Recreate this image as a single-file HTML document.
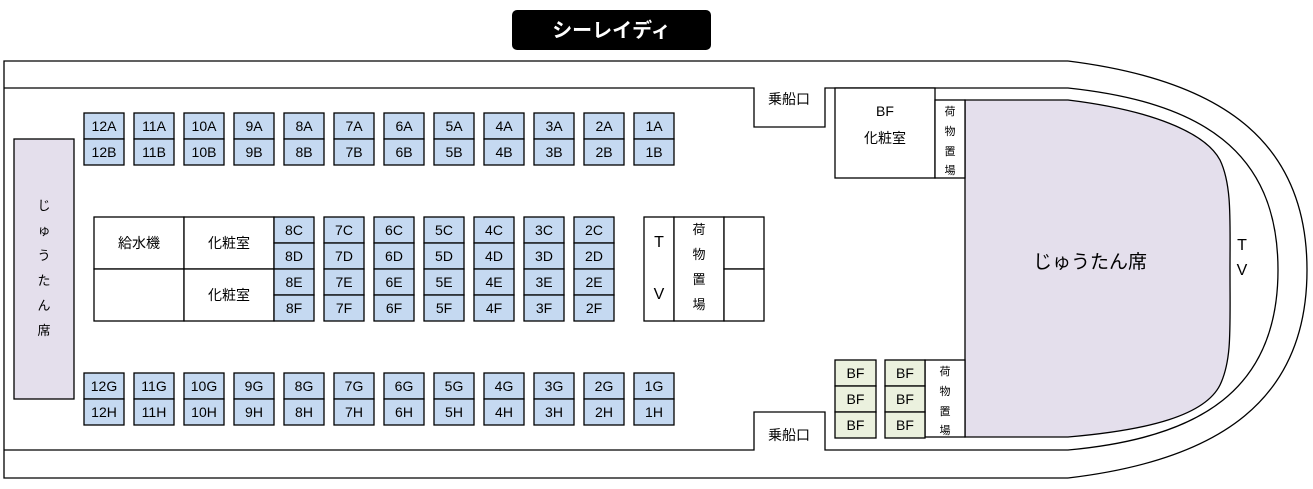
<!DOCTYPE html>
<html><head><meta charset="utf-8"><style>
html,body{margin:0;padding:0;background:#fff;width:1313px;height:489px;overflow:hidden}
svg{display:block}
text{font-family:"Liberation Sans","Noto Sans CJK JP",sans-serif;fill:#000}
</style></head><body>
<svg id="s" width="1313" height="489" viewBox="0 0 1313 489" xmlns="http://www.w3.org/2000/svg">
<rect x="512" y="10" width="199" height="40" rx="5" fill="#000"/>
<text x="611.5" y="37" font-size="20" font-weight="bold" text-anchor="middle" style="fill:#fff">シーレイディ</text>
<g fill="none" stroke="#000" stroke-width="1.3">
<path d="M1068,61 L4,61 L4,478 L1068,478"/>
<path d="M1068,61 C1220,80 1307,140 1307,270 C1307,400 1220,460 1068,478"/>
<path d="M4,88 L754,88 L754,127 L825,127 L825,88 L1068,88 C1200,102 1278,150 1278,270 C1278,390 1200,438 1068,450 L825,450 L825,412 L754,412 L754,450 L4,450"/>
</g>
<path d="M965,100 L1068,100 C1150,110 1205,132 1220,160 C1232,185 1230,220 1230,270 C1230,330 1232,360 1220,385 C1205,415 1150,430 1068,437 L965,437 Z" fill="#e4dfec" stroke="#000" stroke-width="1.3"/>
<text x="1090" y="268" font-size="19" text-anchor="middle">じゅうたん席</text>
<text x="1242" y="250" font-size="16" text-anchor="middle">T</text>
<text x="1242" y="275" font-size="16" text-anchor="middle">V</text>
<text x="789" y="104" font-size="14" text-anchor="middle">乗船口</text>
<text x="789" y="440" font-size="14" text-anchor="middle">乗船口</text>
<g fill="#fff" stroke="#000" stroke-width="1.3">
<rect x="835" y="88" width="100" height="90"/>
<rect x="935" y="100" width="30" height="78"/>
<rect x="925" y="360" width="40" height="77"/>
<rect x="644" y="217" width="30" height="104"/>
<rect x="674" y="217" width="50" height="104"/>
<rect x="724" y="217" width="40" height="52"/>
<rect x="724" y="269" width="40" height="52"/>
<rect x="94" y="217" width="90" height="52"/>
<rect x="184" y="217" width="90" height="52"/>
<rect x="94" y="269" width="90" height="52"/>
<rect x="184" y="269" width="90" height="52"/>
</g>
<line x1="835" y1="88" x2="965" y2="88" stroke="#fff" stroke-width="0"/>
<rect x="14" y="139" width="60" height="260" fill="#e4dfec" stroke="#000" stroke-width="1.3"/>
<g font-size="13" text-anchor="middle">
<text x="44" y="210">じ</text><text x="44" y="235">ゅ</text><text x="44" y="260">う</text><text x="44" y="285">た</text><text x="44" y="310">ん</text><text x="44" y="335">席</text>
<text x="885" y="116" font-size="14">BF</text><text x="885" y="143" font-size="14">化粧室</text>
<text x="950" y="115" font-size="11">荷</text><text x="950" y="135" font-size="11">物</text><text x="950" y="155" font-size="11">置</text><text x="950" y="174" font-size="11">場</text>
<text x="945" y="375" font-size="11">荷</text><text x="945" y="395" font-size="11">物</text><text x="945" y="415" font-size="11">置</text><text x="945" y="434" font-size="11">場</text>
<text x="659" y="247" font-size="16">T</text><text x="659" y="299" font-size="16">V</text>
<text x="699" y="234">荷</text><text x="699" y="259">物</text><text x="699" y="284">置</text><text x="699" y="309">場</text>
<text x="139" y="248" font-size="14">給水機</text><text x="229" y="248" font-size="14">化粧室</text><text x="229" y="300" font-size="14">化粧室</text>
</g>
<g id="seats"></g>
</svg>
<script>
var g=document.getElementById('seats'),h='';
function cell(x,y,w,t,f){h+='<rect x="'+x+'" y="'+y+'" width="'+w+'" height="26" fill="'+f+'" stroke="#000" stroke-width="1.3"/><text x="'+(x+w/2)+'" y="'+(y+18)+'" font-size="14" text-anchor="middle">'+t+'</text>';}
var B='#c5d9f1';
for(var n=12;n>=1;n--){var x=84+(12-n)*50;
cell(x,113,40,n+'A',B);cell(x,139,40,n+'B',B);
cell(x,373,40,n+'G',B);cell(x,399,40,n+'H',B);}
for(var n=8;n>=2;n--){var x=274+(8-n)*50;
['C','D','E','F'].forEach(function(l,i){cell(x,217+i*26,40,n+l,B);});}
for(var i=0;i<3;i++){cell(835,360+i*26,41,'BF','#ebf1de');cell(885,360+i*26,40,'BF','#ebf1de');}
g.innerHTML=h;
</script>
</body></html>
